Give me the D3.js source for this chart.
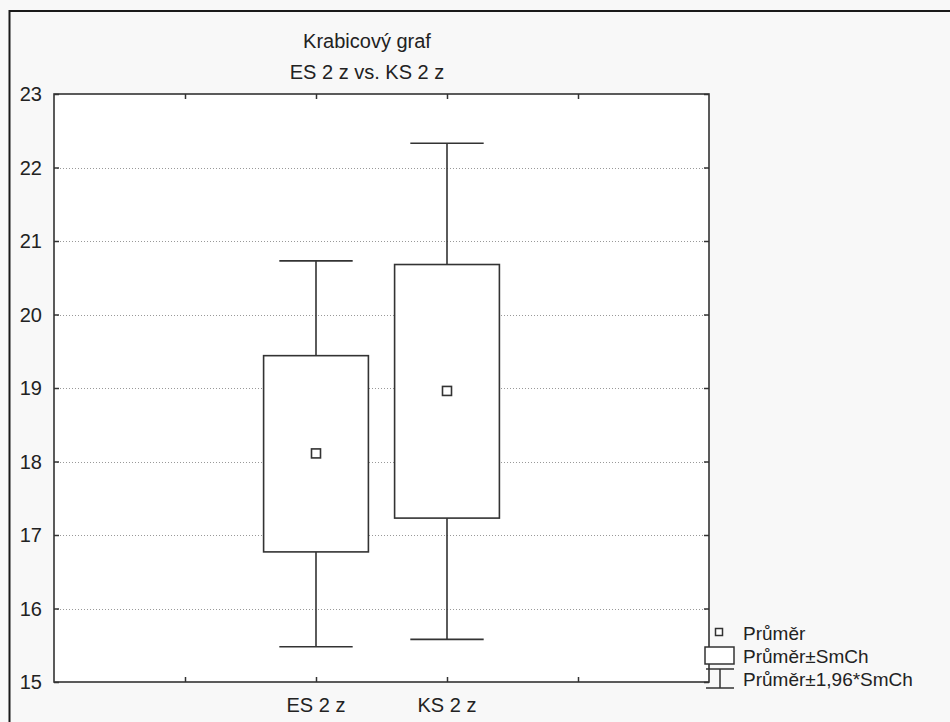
<!DOCTYPE html>
<html>
<head>
<meta charset="utf-8">
<script src="https://cdn.jsdelivr.net/npm/d3@7"></script>
<style>
  html, body { margin: 0; padding: 0; background: #f8f8f8; }
  svg { display: block; }
  text { font-family: "Liberation Sans", Arial, sans-serif; fill: #222; }
</style>
</head>
<body>
<svg id="chart" width="950" height="722"></svg>
<script>
// Box plot: mean, mean ± SE box, mean ± 1.96*SE whiskers
const categories = ["ES 2 z", "KS 2 z"];
const means      = [18.11, 18.96];
const boxLow     = [16.77, 17.23];
const boxHigh    = [19.44, 20.68];
const whiskLow   = [15.48, 15.58];
const whiskHigh  = [20.73, 22.33];
const yTicks     = [15, 16, 17, 18, 19, 20, 21, 22, 23];
const titleLines = ["Krabicový graf", "ES 2 z vs. KS 2 z"];
const legendLabels = ["Průměr", "Průměr±SmCh", "Průměr±1,96*SmCh"];

const svg = d3.select("#chart");
const W = 950, H = 722;
const plot = { left: 54, top: 94, right: 709, bottom: 682 };
const ink = "#333";

// outer frame
svg.append("rect").attr("x", 0).attr("y", 0).attr("width", W).attr("height", H).attr("fill", "#f8f8f8");
svg.append("path")
  .attr("d", `M9.5,${H} V11 H${W}`)
  .attr("fill", "none").attr("stroke", "#1a1a1a").attr("stroke-width", 2);

// scales: categories sit on slots 2 and 3 of a 0..5 axis
const x = d3.scaleLinear().domain([0, 5]).range([plot.left, plot.right]);
const y = d3.scaleLinear().domain([15, 23]).range([plot.bottom, plot.top]);
const pos = i => x(i + 2);

// plot background
svg.append("rect")
  .attr("x", plot.left).attr("y", plot.top)
  .attr("width", plot.right - plot.left).attr("height", plot.bottom - plot.top)
  .attr("fill", "#fff");

// dotted gridlines
svg.append("g").selectAll("line")
  .data(yTicks.filter(v => v > 15 && v < 23))
  .join("line")
  .attr("x1", plot.left).attr("x2", plot.right)
  .attr("y1", d => Math.round(y(d)) + 0.5).attr("y2", d => Math.round(y(d)) + 0.5)
  .attr("stroke", "#999").attr("stroke-width", 1).attr("stroke-dasharray", "1,2");

// axes with inward ticks on all four sides
const tickLen = 5;
const xTickVals = [1, 2, 3, 4];
const axisStyle = g => {
  g.select(".domain").remove();
  g.selectAll(".tick line").attr("stroke", ink).attr("stroke-width", 1.5);
};
svg.append("g").attr("transform", `translate(${plot.left},0)`)
  .call(d3.axisRight(y).tickValues(yTicks).tickSize(tickLen).tickFormat(""))
  .call(axisStyle);
svg.append("g").attr("transform", `translate(${plot.right},0)`)
  .call(d3.axisLeft(y).tickValues(yTicks).tickSize(tickLen).tickFormat(""))
  .call(axisStyle);
svg.append("g").attr("transform", `translate(0,${plot.bottom})`)
  .call(d3.axisTop(x).tickValues(xTickVals).tickSize(tickLen).tickFormat(""))
  .call(axisStyle);
svg.append("g").attr("transform", `translate(0,${plot.top})`)
  .call(d3.axisBottom(x).tickValues(xTickVals).tickSize(tickLen).tickFormat(""))
  .call(axisStyle);

// y tick labels
svg.append("g").selectAll("text")
  .data(yTicks).join("text")
  .attr("x", 42).attr("y", d => y(d))
  .attr("text-anchor", "end").attr("dominant-baseline", "central")
  .attr("font-size", 20)
  .text(d => d);

// category labels
svg.append("g").selectAll("text")
  .data(categories).join("text")
  .attr("x", (d, i) => pos(i)).attr("y", 712)
  .attr("text-anchor", "middle")
  .attr("font-size", 20)
  .text(d => d);

// title
svg.append("g").selectAll("text")
  .data(titleLines).join("text")
  .attr("x", 367).attr("y", (d, i) => 48 + i * 31)
  .attr("text-anchor", "middle")
  .attr("font-size", 20)
  .text(d => d);

// marks
const boxW = x(0.8) - x(0);
const capW = x(0.56) - x(0);
const g = svg.append("g").attr("fill", "none").attr("stroke", ink).attr("stroke-width", 1.6);

categories.forEach((c, i) => {
  const cx = pos(i);
  // whisker stems
  g.append("line").attr("x1", cx).attr("x2", cx).attr("y1", y(whiskHigh[i])).attr("y2", y(boxHigh[i]));
  g.append("line").attr("x1", cx).attr("x2", cx).attr("y1", y(boxLow[i])).attr("y2", y(whiskLow[i]));
  // caps
  g.append("line").attr("x1", cx - capW / 2).attr("x2", cx + capW / 2).attr("y1", y(whiskHigh[i])).attr("y2", y(whiskHigh[i]));
  g.append("line").attr("x1", cx - capW / 2).attr("x2", cx + capW / 2).attr("y1", y(whiskLow[i])).attr("y2", y(whiskLow[i]));
  // box
  g.append("rect")
    .attr("x", cx - boxW / 2).attr("y", y(boxHigh[i]))
    .attr("width", boxW).attr("height", y(boxLow[i]) - y(boxHigh[i]))
    .attr("fill", "#fff");
  // mean marker
  g.append("rect")
    .attr("x", cx - 4.5).attr("y", y(means[i]) - 4.5)
    .attr("width", 9).attr("height", 9)
    .attr("fill", "#fff");
});

// plot frame
svg.append("rect")
  .attr("x", plot.left).attr("y", plot.top)
  .attr("width", plot.right - plot.left).attr("height", plot.bottom - plot.top)
  .attr("fill", "none").attr("stroke", ink).attr("stroke-width", 1.6);

// legend
const lg = svg.append("g");
const lgSym = lg.append("g").attr("fill", "none").attr("stroke", ink).attr("stroke-width", 1.5);
lgSym.append("rect").attr("x", 715.5).attr("y", 628.5).attr("width", 7).attr("height", 7).attr("fill", "#fff");
lgSym.append("rect").attr("x", 705).attr("y", 647).attr("width", 29).attr("height", 17).attr("fill", "#fff");
lgSym.append("line").attr("x1", 706).attr("x2", 734).attr("y1", 669).attr("y2", 669);
lgSym.append("line").attr("x1", 706).attr("x2", 734).attr("y1", 688).attr("y2", 688);
lgSym.append("line").attr("x1", 720).attr("x2", 720).attr("y1", 669).attr("y2", 688);
lg.selectAll("text")
  .data(legendLabels).join("text")
  .attr("x", 743).attr("y", (d, i) => 633 + i * 23)
  .attr("dominant-baseline", "central")
  .attr("font-size", 19)
  .text(d => d);
</script>
</body>
</html>
